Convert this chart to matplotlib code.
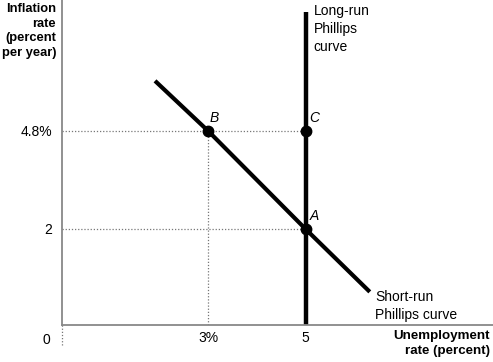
import numpy as np
import matplotlib
matplotlib.use("Agg")
import matplotlib.pyplot as plt

plt.rcParams['font.family'] = ['Liberation Sans', 'DejaVu Sans']

# schematic chart: the y axis is not to scale, so a piecewise scale is used
Y_NODES = [0, 2, 4.8, 10]
Y_DRAWN = [0, 2, 4.042, 7.833]

# short-run Phillips curve (passes through B and A)
sr_x = [1.91, 3, 5, 6.32]
sr_y = [6.23, 4.8, 2, 0.69]

# long-run Phillips curve (vertical at natural rate)
lr_x = [5, 5]
lr_y = [0, 8.2]

# labelled points
pt_names = ['A', 'B', 'C']
pt_x = [5, 3, 5]
pt_y = [2, 4.8, 4.8]

x_ticks = [3, 5]
x_labels = ['3%', '5']
y_ticks = [2, 4.8]
y_labels = ['2', '4.8%']


def fwd(y):
    return np.interp(y, Y_NODES, Y_DRAWN)


def inv(d):
    return np.interp(d, Y_DRAWN, Y_NODES)


fig = plt.figure(figsize=(4.93, 3.62), dpi=100)
ax = fig.add_axes([62 / 493, 37 / 362, 431 / 493, 325 / 362])
ax.set_yscale('function', functions=(fwd, inv))
ax.set_xlim(0, 8.85)
ax.set_ylim(0, 8.54)

for s in ['top', 'right']:
    ax.spines[s].set_visible(False)
for s in ['left', 'bottom']:
    ax.spines[s].set_color('#888888')
    ax.spines[s].set_linewidth(1.3)

# dotted guides
guide = dict(color='#777777', linestyle=(0, (1, 1.5)), linewidth=0.9)
ax.plot([0, pt_x[2]], [pt_y[2], pt_y[2]], **guide)
ax.plot([0, pt_x[0]], [pt_y[0], pt_y[0]], **guide)
ax.plot([pt_x[1], pt_x[1]], [0, pt_y[1]], **guide)
ax.plot([0, 0], [0, -0.065], transform=ax.transAxes, clip_on=False, **guide)

ax.plot(lr_x, lr_y, color='black', linewidth=3.2, solid_capstyle='butt')
ax.plot(sr_x, sr_y, color='black', linewidth=3.0, solid_capstyle='butt')
ax.plot(pt_x, pt_y, 'o', color='black', markersize=7.5, zorder=5)

offsets = {'A': (3, 4), 'B': (1, 4), 'C': (3, 4)}
for n, x, y in zip(pt_names, pt_x, pt_y):
    ax.annotate(n, (x, y), xytext=offsets[n], textcoords='offset points',
                fontsize=10, fontstyle='italic', ha='left', va='bottom')

ax.set_xticks(x_ticks)
ax.set_xticklabels(x_labels)
ax.set_yticks(y_ticks)
ax.set_yticklabels(y_labels)
ax.tick_params(axis='x', length=0, labelsize=10, pad=4)
ax.tick_params(axis='y', length=0, labelsize=10, pad=7)
ax.minorticks_off()
ax.text(-0.028, -0.025, '0', transform=ax.transAxes, ha='right', va='top', fontsize=10)

ax.text(5.17, 8.42, 'Long-run\nPhillips\ncurve', fontsize=10, ha='left', va='top',
        linespacing=1.35)
ax.text(6.43, 0.72, 'Short-run\nPhillips curve', fontsize=10, ha='left', va='top',
        linespacing=1.3)

fig.text(56 / 493, 1 - 3 / 362, 'Inflation\nrate\n(percent\nper year)', ha='right', va='top',
         fontsize=9.3, fontweight='bold', linespacing=1.3, multialignment='right')
fig.text(490 / 493, 1 - 330 / 362, 'Unemployment\nrate (percent)', ha='right', va='top',
         fontsize=9.6, fontweight='bold', linespacing=1.3, multialignment='right')

fig.savefig('out.png', dpi=100)
